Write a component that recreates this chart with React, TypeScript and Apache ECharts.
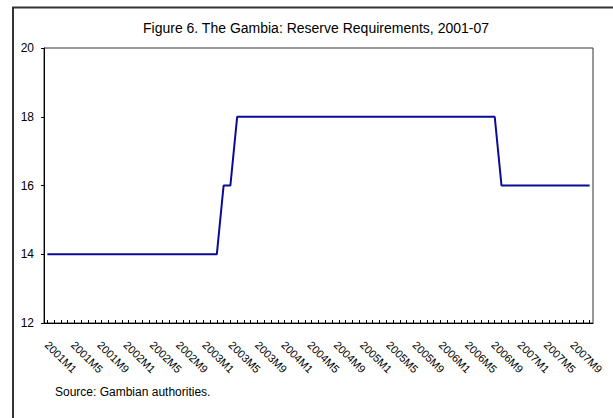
import React, { useEffect, useRef } from "react";
import * as echarts from "echarts";

const years = [2001, 2002, 2003, 2004, 2005, 2006, 2007];
const lastMonth2007 = 9;
const categories: string[] = [];
years.forEach((y) => {
  const maxM = y === 2007 ? lastMonth2007 : 12;
  for (let m = 1; m <= maxM; m++) categories.push(`${y}M${m}`);
});

// Reserve requirement (percent), monthly 2001M1–2007M9
const reserveRequirement = [
  // 2001
  14, 14, 14, 14, 14, 14, 14, 14, 14, 14, 14, 14,
  // 2002
  14, 14, 14, 14, 14, 14, 14, 14, 14, 14, 14, 14,
  // 2003
  14, 14, 16, 16, 18, 18, 18, 18, 18, 18, 18, 18,
  // 2004
  18, 18, 18, 18, 18, 18, 18, 18, 18, 18, 18, 18,
  // 2005
  18, 18, 18, 18, 18, 18, 18, 18, 18, 18, 18, 18,
  // 2006
  18, 18, 18, 18, 18, 18, 18, 16, 16, 16, 16, 16,
  // 2007
  16, 16, 16, 16, 16, 16, 16, 16, 16,
];

const titleText = "Figure 6. The Gambia: Reserve Requirements, 2001-07";
const sourceText = "Source: Gambian authorities.";
const FONT = "'Liberation Sans', Arial, sans-serif";

export default function App() {
  const ref = useRef<HTMLDivElement>(null);
  useEffect(() => {
    if (!ref.current) return;
    const chart = echarts.init(ref.current, null, { renderer: "svg" });
    chart.setOption({
      animation: false,
      backgroundColor: "#ffffff",
      textStyle: { fontFamily: FONT },
      grid: [
        {
          left: 44,
          top: 48,
          width: 549,
          height: 275,
          containLabel: false,
          outerBoundsMode: "none",
          show: true,
          borderColor: "#333333",
          borderWidth: 1,
          backgroundColor: "transparent",
        },
        {
          // label band (the original's rotated labels sit slightly tighter than the ticks)
          left: 43.5,
          top: 48,
          width: 532,
          height: 275,
          containLabel: false,
          outerBoundsMode: "none",
          show: false,
        },
      ],
      xAxis: [
        {
          type: "category",
          gridIndex: 0,
          data: categories,
          boundaryGap: true,
          axisLine: { show: true, lineStyle: { color: "#000", width: 1 } },
          axisTick: {
            show: true,
            inside: true,
            length: 3,
            interval: 0,
            alignWithLabel: true,
            lineStyle: { color: "#000" },
          },
          axisLabel: { show: false },
          splitLine: { show: false },
        },
        {
          type: "category",
          gridIndex: 1,
          data: categories,
          boundaryGap: true,
          axisLine: { show: false },
          axisTick: { show: false },
          axisLabel: {
            interval: 3,
            rotate: -45,
            margin: 20,
            fontSize: 11,
            color: "#000",
            fontFamily: FONT,
            hideOverlap: false,
          },
          splitLine: { show: false },
        },
      ],
      yAxis: [
        {
          type: "value",
          gridIndex: 0,
          min: 12,
          max: 20,
          interval: 2,
          axisLine: { show: true, lineStyle: { color: "#000", width: 1 } },
          axisTick: { show: true, inside: false, length: 3, lineStyle: { color: "#000" } },
          axisLabel: { fontSize: 12, color: "#000", margin: 10, fontFamily: FONT },
          splitLine: { show: false },
        },
        {
          type: "value",
          gridIndex: 1,
          min: 12,
          max: 20,
          show: false,
        },
      ],
      series: [
        {
          type: "line",
          xAxisIndex: 0,
          yAxisIndex: 0,
          data: reserveRequirement,
          symbol: "none",
          lineStyle: { color: "#0a0a96", width: 2 },
        },
      ],
      graphic: [
        {
          type: "rect",
          shape: { x: 13, y: 7.5, width: 800, height: 600 },
          style: { fill: "none", stroke: "#333333", lineWidth: 2 },
          silent: true,
        },
        {
          type: "text",
          x: 316,
          y: 28,
          style: {
            text: titleText,
            fontSize: 14,
            fontFamily: FONT,
            fill: "#000",
            align: "center",
            verticalAlign: "middle",
          },
        },
        {
          type: "text",
          x: 55,
          y: 392,
          style: {
            text: sourceText,
            fontSize: 12,
            fontFamily: FONT,
            fill: "#000",
            align: "left",
            verticalAlign: "middle",
          },
        },
      ],
    });
    return () => chart.dispose();
  }, []);
  return (
    <div
      ref={ref}
      style={{ position: "fixed", left: 0, top: 0, width: 613, height: 418 }}
    />
  );
}
